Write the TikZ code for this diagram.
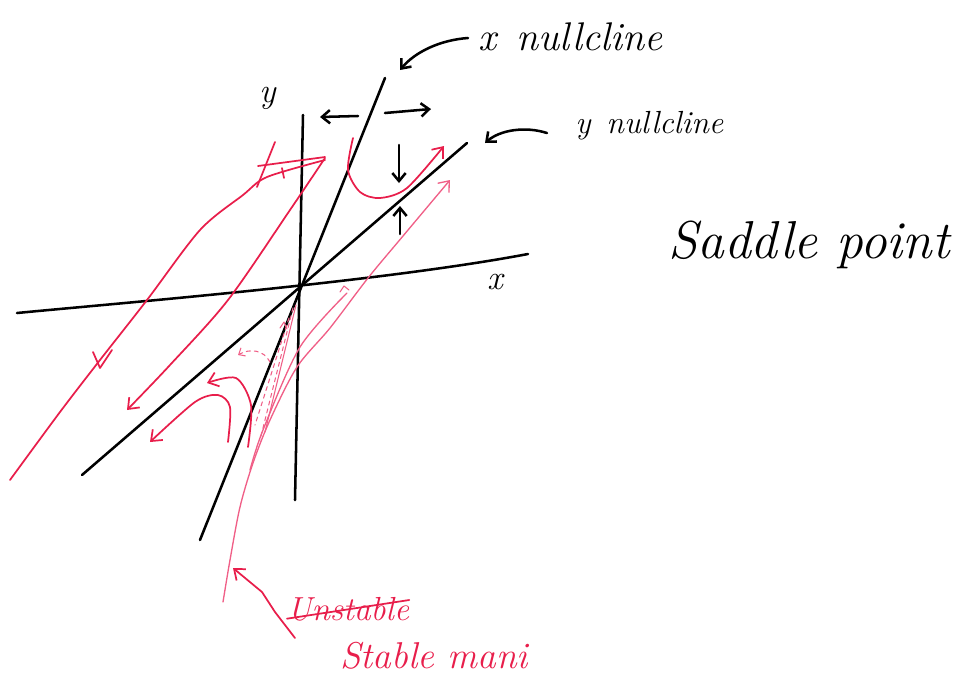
\documentclass[tikz,border=0pt]{standalone}
\usetikzlibrary{arrows.meta}
\definecolor{inkred}{RGB}{232,30,75}
\definecolor{inkpink}{RGB}{240,95,135}
\begin{document}
\begin{tikzpicture}[x=0.75pt,y=-0.75pt,
  blk/.style={line width=1.9pt,black,line cap=round,line join=round},
  rd/.style={line width=1.3pt,inkred,line cap=round,line join=round},
  pk/.style={line width=0.8pt,inkpink,line cap=round,line join=round},
  tipb/.style={-{Straight Barb[length=6pt,width=10pt]}},
  tipr/.style={-{Straight Barb[length=7pt,width=11pt]}},
  lbl/.style={inner sep=0pt,font=\itshape}]
\useasboundingbox (0,0) rectangle (957,676);

% axes
\draw[blk] (17,313) .. controls (120,303) and (380,282) .. (528,254);
\draw[blk] (303,115) -- (295,500);
% nullclines
\draw[blk] (385,78) -- (200,540);
\draw[blk] (467,143) -- (82,475);

% direction arrows
\draw[blk,tipb] (358,116) -- (320,117);
\draw[blk,tipb] (385,113) -- (431,109);
\draw[blk,tipb] (399,145) -- (399,183);
\draw[blk,tipb] (400,234) -- (400,206);

% labels
\node[lbl,anchor=base west,font=\itshape\fontsize{30}{32}\selectfont] (xnull) at (478,50) {x\enspace nullcline};
\node[lbl,anchor=base west,font=\itshape\fontsize{24}{26}\selectfont] (ynull) at (575,133) {y\enspace nullcline};
\node[lbl,anchor=base west,font=\itshape\fontsize{40}{42}\selectfont] (saddle) at (668,258) {Saddle point};
\node[lbl,font=\itshape\fontsize{26}{28}\selectfont] (ylab) at (268,98) {y};
\node[lbl,font=\itshape\fontsize{26}{28}\selectfont] (xlab) at (495,282) {x};
\coordinate (xnt) at (400,70);
\coordinate (ynt) at (485,143);
\draw[blk,tipb] (xnull.base west) ++(-10,-12) .. controls (440,40) and (415,52) .. (xnt);
\draw[blk,tipb] (ynull.base west) ++(-28,0) .. controls (525,126) and (500,130) .. (ynt);

% red trajectories
\draw[rd] plot[smooth,tension=0.5] coordinates {(10,480) (60,412) (100,360) (147,300) (200,230) (243,195) (267,177) (325,160)};
\draw[rd] (93,352) -- (100,368) -- (112,350);
\draw[rd] (258,166) -- (325,157);
\draw[rd] (275,142) -- (257,187);
\draw[rd] (282,168) -- (284,178);
\draw[rd,tipr] plot[smooth,tension=0.5] coordinates {(325,158) (290,210) (228,300) (170,365) (127,410)};

\draw[rd,tipr] plot[smooth] coordinates {(353,138) (348,170) (360,192) (380,198) (407,188) (444,146)};

\draw[rd,tipr] plot[smooth] coordinates {(248,447) (251,405) (236,378) (207,383)};
\draw[rd,tipr] plot[smooth] coordinates {(228,442) (230,407) (218,395) (195,402) (150,442)};
\draw[pk,dashed,-{Straight Barb[length=4pt,width=7pt]}] (270,362) .. controls (264,350) and (250,348) .. (238,355);

% thin pink trajectories near the stable manifold
\draw[pk,line width=1pt,tipr] plot[smooth,tension=0.5] coordinates {(223,602) (230,560) (240,507) (253,463) (270,420) (297,367) (330,328) (368,278) (403,236) (450,180)};
\draw[pk,line width=1pt] plot[smooth,tension=0.5] coordinates {(250,470) (263,430) (300,347) (347,293)};
\draw[pk] (340,292) -- (344,286) -- (349,290);
\draw[pk,dashed] (293,308) -- (260,440);
\draw[pk,dashed] (289,318) -- (255,425);
\draw[pk] (296,305) -- (265,432);
\draw[pk] (280,328) -- (284,322) -- (287,329);

% stable manifold label
\node[lbl,anchor=base west,text=inkred,font=\itshape\fontsize{25}{27}\selectfont] (unst) at (287,620) {Unstable};
\draw[rd] ([yshift=1pt]unst.base west) -- ([yshift=15pt]unst.base east);
\node[lbl,anchor=base west,text=inkred,font=\itshape\fontsize{28}{30}\selectfont] (stab) at (340,668) {Stable mani};
\coordinate (smt) at (233,568);
\draw[rd,tipr] (295,638) -- (275,612) -- (262,592) -- (smt);
\end{tikzpicture}
\end{document}
